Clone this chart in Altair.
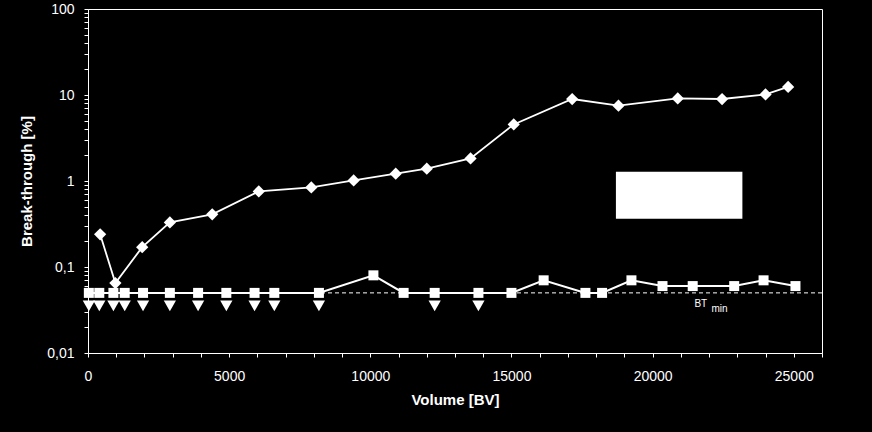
import altair as alt
import pandas as pd

# ---- data ----
diamond_x = [430, 970, 1920, 2900, 4400, 6050, 7910, 9410, 10900, 12000, 13550,
             15080, 17150, 18790, 20890, 22460, 24000, 24800]
diamond_y = [0.24, 0.065, 0.17, 0.33, 0.41, 0.757, 0.843, 1.016, 1.216, 1.39, 1.83,
             4.55, 8.98, 7.51, 9.13, 8.98, 10.16, 12.4]

square_x = [30, 400, 900, 1300, 1950, 2900, 3900, 4900, 5900, 6600, 8180, 10110,
            11180, 12280, 13830, 15000, 16140, 17620, 18210, 19250, 20350, 21420,
            22890, 23930, 25060]
square_y = [0.05, 0.05, 0.05, 0.05, 0.05, 0.05, 0.05, 0.05, 0.05, 0.05, 0.05, 0.08,
            0.05, 0.05, 0.05, 0.05, 0.07, 0.05, 0.05, 0.07, 0.06, 0.06, 0.06, 0.07, 0.06]

below_limit_x = [30, 400, 900, 1300, 1950, 2900, 3900, 4900, 5900, 6600, 8180, 12280, 13830]

BT_MIN = 0.05
bt_label_x = [21480]

legend_box_x = [18700]
legend_box_x2 = [23180]
legend_box_y = [1.28]
legend_box_y2 = [0.365]

x_tick_values = list(range(0, 26001, 1000))
y_tick_values = [round(m * 10 ** e, 4) for e in range(-2, 2) for m in range(1, 10)] + [100]

# ---- tables ----
dia_df = pd.DataFrame({"x": diamond_x, "y": diamond_y})
sq_df = pd.DataFrame({"x": square_x, "y": square_y})
tri_df = pd.DataFrame({"x": below_limit_x, "y": [BT_MIN] * len(below_limit_x)})
bt_df = pd.DataFrame({"x": bt_label_x, "y": [BT_MIN]})
rule_df = pd.DataFrame({"y": [BT_MIN]})
box_df = pd.DataFrame({"x": legend_box_x, "x2": legend_box_x2,
                       "y": legend_box_y, "y2": legend_box_y2})

FONT = "Liberation Sans"

x_scale = alt.Scale(domain=[0, 26000], nice=False, zero=False)
y_scale = alt.Scale(type="log", domain=[0.01, 100], nice=False)

X = alt.X("x:Q", scale=x_scale,
          axis=alt.Axis(title="Volume [BV]", values=x_tick_values, format="d",
                        labelExpr="datum.value % 5000 == 0 ? datum.label : ''",
                        grid=False, tickSize=4, labelPadding=12, titlePadding=9,
                        labelFlush=False, labelOverlap=False))
Y = alt.Y("y:Q", scale=y_scale,
          axis=alt.Axis(title="Break-through [%]", values=y_tick_values,
                        labelExpr="datum.value == 0.01 ? '0,01' : datum.value == 0.1 ? '0,1' : "
                                  "datum.value == 1 ? '1' : datum.value == 10 ? '10' : "
                                  "datum.value == 100 ? '100' : ''",
                        grid=False, tickSize=4, labelPadding=10, titlePadding=12,
                        labelFlush=False, labelOverlap=False))

rule = alt.Chart(rule_df).mark_rule(color="white", strokeWidth=1, strokeDash=[4, 3]).encode(y=Y)

box = alt.Chart(box_df).mark_rect(color="white", opacity=1).encode(
    x=X, x2="x2:Q", y=Y, y2="y2:Q")

sq_line = alt.Chart(sq_df).mark_line(color="white", strokeWidth=2).encode(x=X, y=Y)
sq_pts = alt.Chart(sq_df).mark_point(shape="square", filled=True, size=100,
                                     color="white", opacity=1).encode(x=X, y=Y)
tri_pts = alt.Chart(tri_df).mark_point(shape="triangle-down", filled=True, size=150,
                                       color="white", opacity=1, yOffset=13).encode(x=X, y=Y)
dia_line = alt.Chart(dia_df).mark_line(color="white", strokeWidth=1.8).encode(x=X, y=Y)
dia_pts = alt.Chart(dia_df).mark_point(shape="diamond", filled=True, size=150,
                                       color="white", opacity=1).encode(x=X, y=Y)

bt_text = alt.Chart(bt_df).mark_text(text="BT", color="white", font=FONT, fontSize=10,
                                     align="left", baseline="alphabetic", dy=14).encode(x=X, y=Y)
min_text = alt.Chart(bt_df).mark_text(text="min", color="white", font=FONT, fontSize=10,
                                      align="left", baseline="alphabetic", dx=17, dy=19).encode(x=X, y=Y)

chart = alt.layer(rule, box, sq_line, sq_pts, tri_pts, dia_line, dia_pts, bt_text, min_text).properties(
    width=734, height=344,
    background="black",
    autosize=alt.AutoSizeParams(type="none"),
    padding={"left": 88, "top": 9, "right": 50, "bottom": 79},
).configure_view(stroke="white", strokeWidth=1).configure_axis(
    domainColor="white", tickColor="white", labelColor="white", titleColor="white",
    labelFont=FONT, titleFont=FONT, labelFontSize=14, titleFontSize=15,
    titleFontWeight="bold", domainWidth=1, tickWidth=1,
)

chart.save("out.html", embed_options={"renderer": "svg", "actions": False})
